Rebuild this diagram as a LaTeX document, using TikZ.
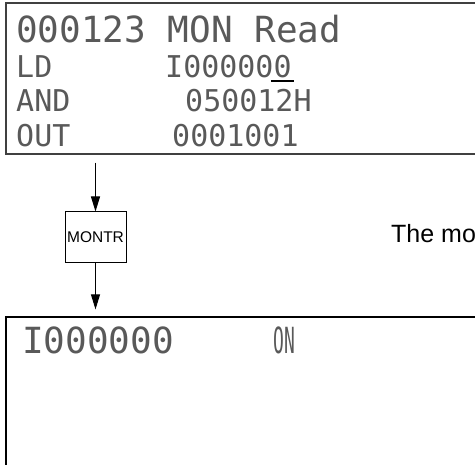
\documentclass[tikz,border=0pt]{standalone}
\usepackage{fontspec}
\setmainfont{Liberation Sans}
\newfontfamily\lcdfont{DejaVu Sans Mono}
\usepackage{tikz}
\usetikzlibrary{arrows.meta}

\begin{document}
\begin{tikzpicture}[x=1pt, y=-1pt, >={Triangle[length=15pt,width=9pt]},
  screen/.style={draw=black!75, line width=1.2pt, inner sep=0pt},
  lcdbig/.style={anchor=base west, inner sep=0pt, text=black!65, font=\lcdfont\fontsize{36}{36}\selectfont},
  lcd/.style={anchor=base west, inner sep=0pt, text=black!65, font=\lcdfont\fontsize{30}{30}\selectfont},
  keybox/.style={draw, line width=1pt, minimum width=61pt, minimum height=51pt, inner sep=0pt, font=\fontsize{15.5}{15.5}\selectfont}]
\clip (0,0) rectangle (475,465);

% first display
\node[screen, minimum width=594pt, minimum height=151pt] (scr1) at (303,78.5) {};
\node[lcdbig] (head) at (16,43) {000123 MON Read};
\node[lcd] (ld) at (16,78) {LD};
\node[lcd] (ldopnd) at (165,78) {I000000};
\node[lcd] (and) at (16,112) {AND};
\node[lcd] (andopnd) at (185,112) {050012H};
\node[lcd] (out) at (16,147) {OUT};
\node[lcd] (outopnd) at (172,147) {0001001};
\draw[line width=2pt] ([xshift=-21pt,yshift=-3pt]ldopnd.base east) -- ([xshift=2pt,yshift=-3pt]ldopnd.base east);

% key
\node[keybox] (montr) at (95.5,237.5) {MONTR};
\node[anchor=base west, inner sep=0pt, font=\fontsize{25}{25}\selectfont] (note) at (391,243) {The mo};

% second display
\node[screen, draw=black, minimum width=594pt, minimum height=283pt] (scr2) at (303,458.5) {};
\node[lcdbig] (bit) at (22,354) {I000000};
\node[lcdbig] (state) at (273,354) {\scalebox{0.5}[1]{ON}};

\draw[->, line width=1pt, shorten <=8pt] (scr1.south -| montr.north) -- (montr.north);
\draw[->, line width=1pt, shorten >=7pt] (montr.south) -- (montr.south |- scr2.north);
\end{tikzpicture}
\end{document}
